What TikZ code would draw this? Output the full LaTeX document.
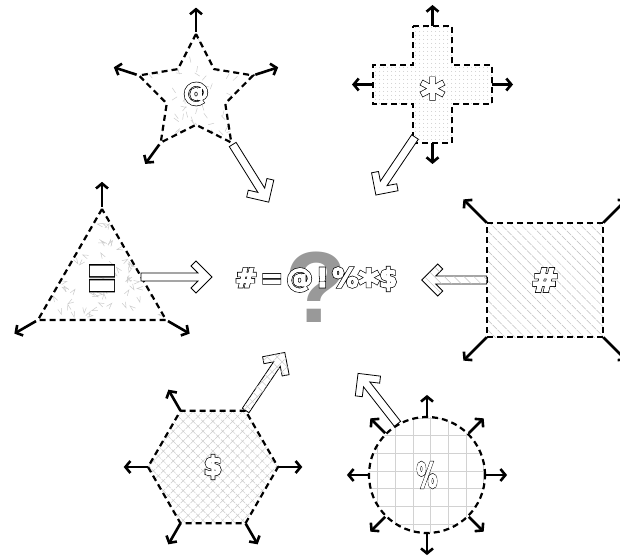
\documentclass[tikz,border=0pt]{standalone}
\usepackage{fontspec}
\setmainfont{DejaVu Sans}
\newfontfamily\qfont{Liberation Sans}
\newfontfamily\ctrfont[LetterSpace=15]{DejaVu Sans}
\usetikzlibrary{shapes.geometric,patterns.meta,arrows.meta}
% outlined, slightly fattened glyphs: a fat black layer under a less fat white layer
\newcommand\olt[1]{\rlap{\special{pdf:literal direct 2 Tr 2.6 w 0 g 0 G}#1}\special{pdf:literal direct 2 Tr 1.3 w 1 g 1 G}#1\special{pdf:literal direct 0 Tr 1 w 0 g 0 G}}
\newcommand\fs[1]{\fontsize{#1}{#1}\selectfont\bfseries}
\newcommand\bigast{{\fontsize{40}{40}\selectfont\raisebox{-11pt}{*}}}
\newcommand\harrow[4]{%
 \begin{scope}[shift={#1},rotate=#2]
 \path[hollow,#4] (0,4) -- ({#3-14},4) -- ({#3-21},11) -- ({#3-16},16) -- (#3,0) -- ({#3-16},-16) -- ({#3-21},-11) -- ({#3-14},-4) -- (0,-4) -- cycle;
 \end{scope}}
\tikzset{
 shapebox/.style={draw, line width=2.2pt, dash pattern=on 6pt off 4pt, inner sep=0pt},
 stub/.style={line width=2.6pt, -{Straight Barb[length=5pt,width=12pt]}},
 hollow/.style={draw=black, line width=0.8pt, fill=white},
 scratch/.style={gray!40, line width=0.5pt, solid},
 gl/.style={gray!35, line width=0.8pt, solid}
}
\begin{document}
\begin{tikzpicture}[x=1pt,y=1pt]
\useasboundingbox (0,0) rectangle (620,555);
\fill[white] (0,0) rectangle (620,555);
\pgfmathsetseed{12}

% centre
\node[anchor=base, text=black!40, font=\qfont\fs{101}, inner sep=0pt] (qm) at (316,233) {?};
\node[anchor=base west, font=\ctrfont\fs{26}, inner sep=0pt] (ctr) at (235,268) {\olt{\#=@!\%\bigast\$}};

% star
\node[shapebox, star, star points=5, star point ratio=1.95, minimum size=120pt,
  path picture={\foreach \i in {1,...,150}{\pgfmathsetmacro\rx{rnd*130-65}\pgfmathsetmacro\ry{rnd*130-65}\pgfmathsetmacro\ra{rnd*360}\draw[scratch] ([shift={(\rx,\ry)}]path picture bounding box.center) -- ++(\ra:6);}}]
  (star) at (196,461) {\fs{25}\olt{@}};

% cross
\path[shapebox, pattern={Dots[distance=4pt,radius=0.6pt]}, pattern color=gray!45]
  (413,529) -- (452,529) -- (452,490) -- (492,490) -- (492,451) -- (452,451) -- (452,412) -- (413,412) -- (413,451) -- (373,451) -- (373,490) -- (413,490) -- cycle;
\node[anchor=base, inner sep=0pt] (crs) at (432.5,443) {\fs{46}\olt{*}};
\coordinate (crT) at (432.5,529);
\coordinate (crL) at (373,470.5);
\coordinate (crR) at (492,470.5);
\coordinate (crB) at (432.5,412);

% triangle
\node[shapebox, regular polygon, regular polygon sides=3, minimum size=148pt,
  path picture={\foreach \i in {1,...,170}{\pgfmathsetmacro\rx{rnd*150-75}\pgfmathsetmacro\ry{rnd*150-75}\pgfmathsetmacro\ra{rnd*360}\draw[scratch] ([shift={(\rx,\ry)}]path picture bounding box.center) -- ++(\ra:6) -- ++(\ra+145:6);}}]
  (tri) at (102,272) {\fs{30}\olt{\scalebox{1.2}[2.2]{=}}};

% square
\node[shapebox, minimum width=116pt, minimum height=114pt,
  pattern={Lines[angle=-45,distance=7pt,line width=0.5pt]}, pattern color=gray!50]
  (sq) at (545,275) {\fs{32}\olt{\#}};

% hexagon
\node[shapebox, regular polygon, regular polygon sides=6, minimum size=130pt,
  pattern={Hatch[angle=45,distance=7pt,line width=0.5pt]}, pattern color=gray!40]
  (hex) at (213,88) {\fs{26}\olt{\$}};

% circle
\node[shapebox, circle, minimum size=116pt,
  path picture={\foreach \k in {-4,...,4}{\draw[gl] ([shift={(3.7+\k*17.7,-70)}]path picture bounding box.center) -- ++(0,140);\draw[gl] ([shift={(-70,4+\k*17.7)}]path picture bounding box.center) -- ++(140,0);}}]
  (circ) at (427,80) {\fs{34}\olt{\scalebox{0.6}[1]{\%}}};

% outward stubs
\foreach \i/\a in {1/90,2/162,3/234,5/18} \draw[stub] (star.outer point \i) -- ++(\a:24);
\draw[stub] (crT) -- ++(0,21);
\draw[stub] (crL) -- ++(-21,0);
\draw[stub] (crR) -- ++(21,0);
\draw[stub] (crB) -- ++(0,-21);
\foreach \a in {90,210,330} \draw[stub] (tri.\a) -- ++(\a:25);
\draw[stub] (sq.north west) -- ++(135:33);
\draw[stub] (sq.north east) -- ++(45:33);
\draw[stub] (sq.south west) -- ++(225:33);
\draw[stub] (sq.south east) -- ++(315:33);
\foreach \a in {0,120,180,240,300} \draw[stub] (hex.\a) -- ++(\a:24);
\foreach \a in {0,45,...,315} \draw[stub] (circ.\a) -- ++(\a:21);

% hollow arrows towards the centre
\harrow{(star.outer point 4)}{-58}{68}{}
\harrow{(415,418)}{-124}{70}{}
\harrow{(141,278)}{0}{71}{}
\harrow{(sq.west)}{180}{65}{postaction={pattern={Lines[angle=-45,distance=7pt,line width=0.5pt]},pattern color=gray!50}}
\harrow{(hex.60)}{56}{70}{postaction={pattern={Hatch[angle=45,distance=7pt,line width=0.5pt]},pattern color=gray!40}}
\harrow{(circ.120)}{128}{64}{}
\end{tikzpicture}
\end{document}
